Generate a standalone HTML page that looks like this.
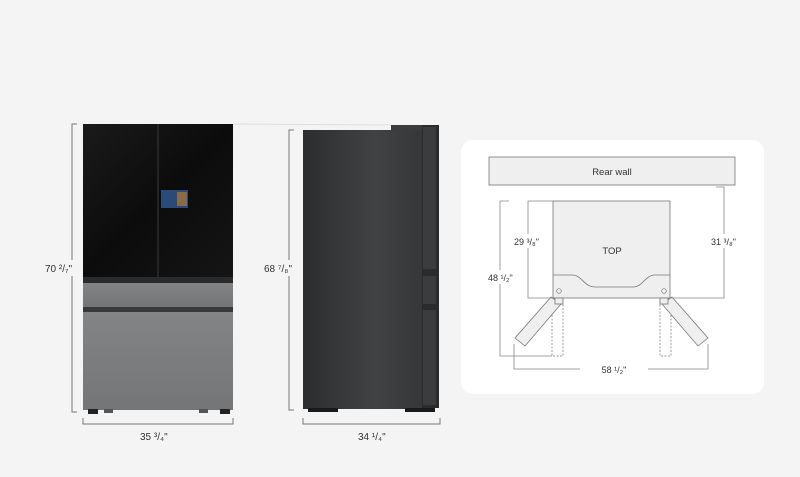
<!DOCTYPE html>
<html><head><meta charset="utf-8"><style>
html,body{margin:0;padding:0;background:#f4f4f4;}
svg{display:block}
text{font-family:"Liberation Sans",sans-serif;fill:#333;}
</style></head><body>
<svg width="800" height="477" viewBox="0 0 800 477" xmlns="http://www.w3.org/2000/svg">
<defs>
<linearGradient id="blk" x1="0" y1="0" x2="1" y2="1">
<stop offset="0" stop-color="#1a1a1a"/><stop offset="0.5" stop-color="#0c0c0c"/><stop offset="1" stop-color="#151515"/></linearGradient>
<linearGradient id="gry" x1="0" y1="0" x2="0" y2="1">
<stop offset="0" stop-color="#838486"/><stop offset="1" stop-color="#747577"/></linearGradient>
<linearGradient id="side" x1="0" y1="0" x2="1" y2="0">
<stop offset="0" stop-color="#2c2d2f"/><stop offset="0.6" stop-color="#414244"/><stop offset="1" stop-color="#363739"/></linearGradient>
</defs>
<rect width="800" height="477" fill="#f4f4f4"/>
<!-- front fridge -->
<rect x="83" y="124" width="150" height="154" fill="url(#blk)"/>
<line x1="158" y1="124" x2="158" y2="277" stroke="#3a3a3a" stroke-width="1"/>
<rect x="161" y="190" width="27" height="18" fill="#2b4a78"/>
<rect x="177" y="192" width="10" height="14" fill="#8a6a4a"/>
<rect x="83" y="277" width="150" height="6" fill="#2a2b2d"/>
<rect x="83" y="283" width="150" height="24" fill="url(#gry)"/>
<rect x="83" y="307" width="150" height="5" fill="#38393b"/>
<rect x="83" y="312" width="150" height="98" fill="url(#gry)"/>
<rect x="88" y="409" width="10" height="5" fill="#222"/>
<rect x="104" y="409" width="9" height="4" fill="#555"/>
<rect x="199" y="409" width="9" height="4" fill="#555"/>
<rect x="220" y="409" width="10" height="5" fill="#222"/>
<!-- side fridge -->
<rect x="303" y="130" width="119" height="279" fill="url(#side)"/>
<rect x="391" y="125" width="40" height="6" fill="#3a3b3d"/>
<rect x="422" y="125" width="17" height="283" fill="#2a2b2d"/>
<rect x="423" y="127" width="13" height="142" fill="#3b3c3e"/>
<rect x="423" y="276" width="13" height="28" fill="#3b3c3e"/>
<rect x="423" y="310" width="13" height="95" fill="#3b3c3e"/>
<rect x="308" y="408" width="30" height="4" fill="#1a1a1a"/>
<rect x="405" y="408" width="30" height="4" fill="#1a1a1a"/>
<!-- dims -->
<g stroke="#777" stroke-width="1" fill="none">
<polyline points="77,124 72,124 72,412 77,412"/>
<polyline points="83,418 83,424 233,424 233,418"/>
<polyline points="294,130 289,130 289,410 294,410"/>
<polyline points="303,418 303,424 440,424 440,418"/>
<line x1="233" y1="124" x2="391" y2="125" stroke="#ddd"/>
</g>
<rect x="36" y="260" width="42" height="16" fill="#f4f4f4"/>
<text x="45" y="272" font-size="10">70 ²/₇"</text>
<rect x="262" y="260" width="34" height="16" fill="#f4f4f4"/>
<text x="264" y="272" font-size="10">68 ⁷/₈"</text>
<text x="140" y="440" font-size="10">35 ³/₄"</text>
<text x="358" y="440" font-size="10">34 ¹/₄"</text>
<!-- right card -->
<rect x="461" y="140" width="303" height="254" rx="12" fill="#fff"/>
<rect x="489" y="157" width="246" height="28" fill="#efefef" stroke="#777" stroke-width="0.8"/>
<text x="612" y="175" font-size="9.5" text-anchor="middle">Rear wall</text>
<rect x="553" y="201" width="117" height="97" fill="#efefef" stroke="#777" stroke-width="0.8"/>
<path d="M553,275 L572,275 C582,275 584,287 595,287 L633,287 C643,287 645,275 655,275 L670,275" fill="none" stroke="#777" stroke-width="0.8"/>
<circle cx="559" cy="291" r="2.3" fill="none" stroke="#777" stroke-width="0.7"/>
<circle cx="664" cy="291" r="2.3" fill="none" stroke="#777" stroke-width="0.7"/>
<text x="612" y="254" font-size="9.5" text-anchor="middle" fill="#222">TOP</text>
<g stroke="#777" stroke-width="0.7" fill="none" stroke-dasharray="2,1.5">
<rect x="552" y="298" width="11" height="58"/>
<rect x="660" y="298" width="11" height="58"/>
</g>
<g fill="#efefef" stroke="#777" stroke-width="0.8">
<polygon points="551,297 561,304 525,346 515,338"/>
<polygon points="672,297 662,304 698,346 708,338"/>
<rect x="555" y="298" width="8" height="6"/>
<rect x="660" y="298" width="8" height="6"/>
</g>
<g stroke="#888" stroke-width="0.8" fill="none">
<polyline points="509,201 500,201 500,356 552,356"/>
<polyline points="553,201 528,201 528,298 553,298"/>
<polyline points="670,298 724,298 724,187 716,187"/>
<polyline points="514,344 514,369 580,369"/>
<polyline points="648,369 708,369 708,344"/>
</g>
<rect x="490" y="270" width="24" height="14" fill="#fff"/>
<text x="488" y="281" font-size="9">48 ¹/₂"</text>
<rect x="512" y="234" width="32" height="14" fill="#fff"/>
<text x="514" y="245" font-size="9">29 ³/₈"</text>
<rect x="712" y="234" width="30" height="14" fill="#fff"/>
<text x="711" y="245" font-size="9">31 ³/₈"</text>
<text x="614" y="373" font-size="9" text-anchor="middle">58 ¹/₂"</text>
</svg>
</body></html>
